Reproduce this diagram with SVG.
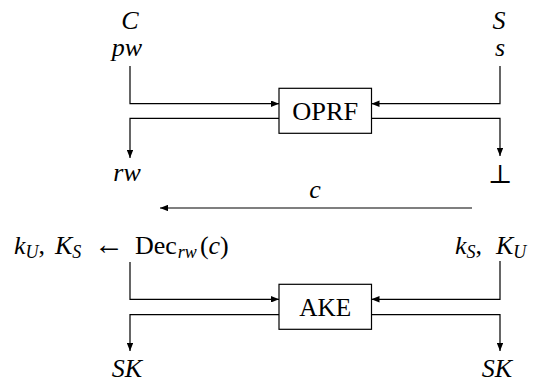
<svg xmlns="http://www.w3.org/2000/svg" width="536" height="384" viewBox="0 0 536 384">
<style>
text{font-family:"Liberation Serif","DejaVu Serif",serif;font-size:26px;fill:#000}
.m{font-style:italic}
.box{fill:#fff;stroke:#000;stroke-width:1.2}
.ln{fill:none;stroke:#000;stroke-width:1.2}
</style>
<defs>
<marker id="ah" viewBox="0 0 10 8" refX="10" refY="4" markerWidth="8" markerHeight="6.4" markerUnits="userSpaceOnUse" orient="auto">
<path d="M0,0 L10,4 L0,8 Z" fill="#000"/>
</marker>
</defs>
<g id="connectors">
<path class="ln" d="M130,66 V103.7 H279" marker-end="url(#ah)"/>
<path class="ln" d="M500,66 V103.7 H371.5" marker-end="url(#ah)"/>
<path class="ln" d="M279,118.3 H130 V158" marker-end="url(#ah)"/>
<path class="ln" d="M371.5,118.3 H500 V156" marker-end="url(#ah)"/>
<path class="ln" d="M472,208 H160" marker-end="url(#ah)"/>
<path class="ln" d="M130,262 V299.3 H279" marker-end="url(#ah)"/>
<path class="ln" d="M500,261 V299.3 H371.5" marker-end="url(#ah)"/>
<path class="ln" d="M279,314.7 H130 V351" marker-end="url(#ah)"/>
<path class="ln" d="M371.5,314.7 H500 V351" marker-end="url(#ah)"/>
</g>
<g id="oprf">
<rect class="box" x="279" y="88.3" width="92.5" height="45"/>
<text x="325.2" y="120" text-anchor="middle" textLength="66" lengthAdjust="spacingAndGlyphs">OPRF</text>
</g>
<g id="ake">
<rect class="box" x="279" y="284.3" width="92.5" height="45"/>
<text x="325.2" y="316" text-anchor="middle" textLength="52" lengthAdjust="spacingAndGlyphs">AKE</text>
</g>
<g id="client-labels">
<text class="m" x="130" y="29" text-anchor="middle">C</text>
<text class="m" x="127" y="56" text-anchor="middle">pw</text>
<text class="m" x="127" y="181" text-anchor="middle">rw</text>
<text y="254"><tspan class="m" x="14">k</tspan><tspan class="m" font-size="18" dy="4">U</tspan><tspan dy="-4">,</tspan><tspan class="m" x="55">K</tspan><tspan class="m" font-size="18" dy="4">S</tspan><tspan dy="-4" x="94" font-size="30">←</tspan><tspan x="135">Dec</tspan><tspan class="m" font-size="18" dy="4" dx="1">rw</tspan><tspan dy="-4" dx="3">(</tspan><tspan class="m">c</tspan><tspan>)</tspan></text>
<text class="m" x="127" y="377" text-anchor="middle">SK</text>
</g>
<g id="server-labels">
<text class="m" x="499" y="29" text-anchor="middle">S</text>
<text class="m" x="500" y="56" text-anchor="middle">s</text>
<text x="500" y="183" text-anchor="middle">⊥</text>
<text y="254"><tspan class="m" x="455">k</tspan><tspan class="m" font-size="18" dy="4">S</tspan><tspan dy="-4">,</tspan><tspan class="m" x="496">K</tspan><tspan class="m" font-size="18" dy="4">U</tspan></text>
<text class="m" x="497" y="377" text-anchor="middle">SK</text>
</g>
<g id="message">
<text class="m" x="315" y="198" text-anchor="middle">c</text>
</g>
</svg>
